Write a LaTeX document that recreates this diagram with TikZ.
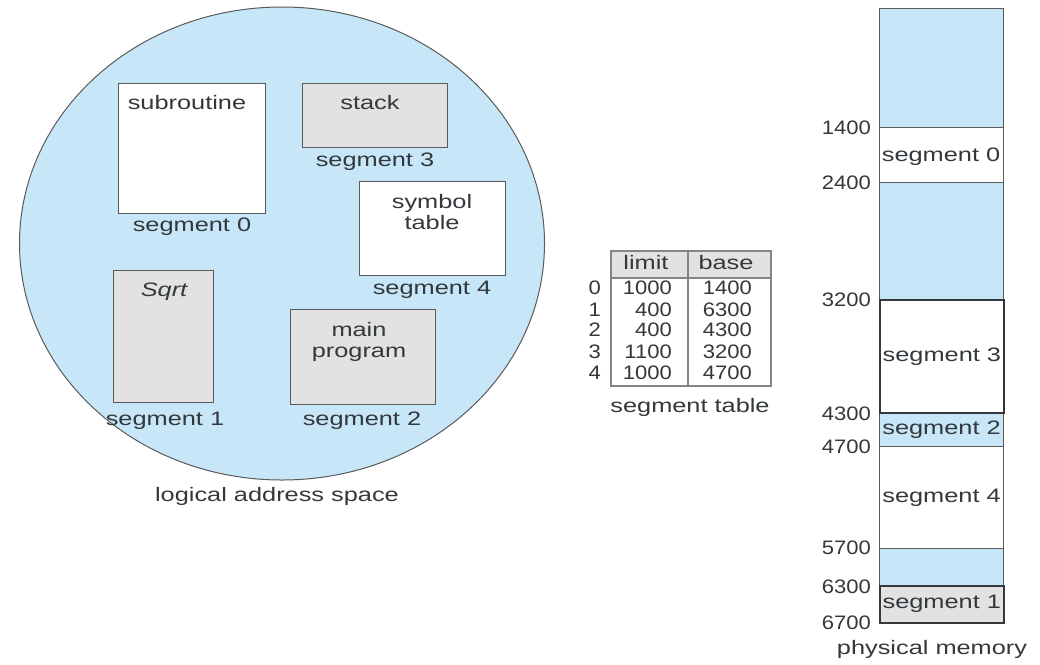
\documentclass[tikz,border=0pt]{standalone}
\usepackage{fontspec}
\setmainfont[FakeStretch=1.3]{Liberation Sans}
\newfontfamily\numfont[FakeStretch=1.13]{Liberation Sans}
\usetikzlibrary{shapes.geometric}
\definecolor{lblue}{HTML}{C7E7F8}
\definecolor{lgray}{HTML}{E2E2E2}
\definecolor{txt}{HTML}{33383C}
\definecolor{edge}{HTML}{5A5A5A}
\definecolor{tedge}{HTML}{858585}
\tikzset{
  lbl/.style={font=\fontsize{19.5}{21}\selectfont, text=txt, inner sep=0pt},
  num/.style={font=\fontsize{19.5}{21}\selectfont\numfont, text=txt, inner sep=0pt},
  segbox/.style={draw=edge, line width=1.3pt, anchor=north west, inner sep=0pt},
  memblk/.style={draw=edge, line width=1pt, anchor=north west, inner sep=0pt, minimum width=124pt},
  addr/.style={num, anchor=east},
}
\begin{document}
\begin{tikzpicture}[x=1pt,y=-1pt]
\useasboundingbox (0,0) rectangle (1040,664);
% logical address space
\node[ellipse, draw=edge, fill=lblue, line width=1pt, minimum width=525pt, minimum height=473pt, inner sep=0pt] (las) at (282,243.5) {};
\node[segbox, fill=white, minimum width=147pt, minimum height=130pt] (b0) at (118,83) {};
\node[lbl] (b0t) at (187,103) {subroutine};
\node[lbl] (b0l) at (192,227) {segment 0};
\node[segbox, fill=lgray, minimum width=145pt, minimum height=64pt] (b3) at (302,83) {};
\node[lbl] (b3t) at (370,103) {stack};
\node[lbl] (b3l) at (375,162) {segment 3};
\node[segbox, fill=white, minimum width=146pt, minimum height=94pt] (b4) at (359,181) {};
\node[lbl, align=center] (b4t) at (432,212.5) {symbol\\table};
\node[lbl] (b4l) at (432,290) {segment 4};
\node[segbox, fill=lgray, minimum width=100pt, minimum height=132pt] (b1) at (113,270) {};
\node[lbl, font=\fontsize{19.5}{21}\selectfont\itshape] (b1t) at (164,292) {Sqrt};
\node[lbl] (b1l) at (165,421) {segment 1};
\node[segbox, fill=lgray, minimum width=145pt, minimum height=95pt] (b2) at (290,309) {};
\node[lbl, align=center] (b2t) at (359,341.5) {main\\program};
\node[lbl] (b2l) at (362,421) {segment 2};
\node[lbl] (lascap) at (277,496) {logical address space};
% segment table
\node[draw=tedge, fill=lgray, line width=1.5pt, anchor=north west, inner sep=0pt, minimum width=160pt, minimum height=27pt] (thead) at (610,250) {};
\node[draw=tedge, line width=1.5pt, anchor=north west, inner sep=0pt, minimum width=160pt, minimum height=108pt] (tbody) at (610,277) {};
\draw[draw=tedge, line width=1.5pt] (thead.north west -| 688,0) -- (tbody.south west -| 688,0);
\node[lbl] (hl) at (646,263) {limit};
\node[lbl] (hb) at (726,263) {base};
\foreach \i/\l/\b/\y in {0/1000/1400/288, 1/400/6300/310, 2/400/4300/330, 3/1100/3200/352, 4/1000/4700/373}{
  \node[num, anchor=east] (ti\i) at (601,\y) {\i};
  \node[num, anchor=east] (tl\i) at (672,\y) {\l};
  \node[num, anchor=east] (tb\i) at (752,\y) {\b};
}
\node[lbl] (tcap) at (690,407) {segment table};
% physical memory
\node[memblk, fill=lblue, minimum height=119pt] (m0) at (879,8) {};
\node[memblk, fill=white, minimum height=55pt] (ms0) at (879,127) {};
\node[memblk, fill=lblue, minimum height=117pt] (m1) at (879,182) {};
\node[memblk, fill=lblue, minimum height=34pt] (ms2) at (879,412) {};
\node[memblk, fill=white, minimum height=102pt] (ms4) at (879,446) {};
\node[memblk, fill=lblue, minimum height=38pt] (m2) at (879,548) {};
\node[memblk, fill=lgray, minimum height=37pt, line width=1.6pt, draw=txt] (ms1) at (879,585) {};
\node[memblk, fill=white, minimum height=113pt, line width=1.8pt, draw=txt] (ms3) at (879,299) {};
\node[lbl] (ms0t) at (941,157) {segment 0};
\node[lbl] (ms3t) at (ms3.center) {segment 3};
\node[lbl] (ms2t) at (ms2.center) {segment 2};
\node[lbl] (ms4t) at (ms4.center) {segment 4};
\node[lbl] (ms1t) at (ms1.center) {segment 1};
\node[addr] (a1) at (871,128) {1400};
\node[addr] (a2) at (871,183) {2400};
\node[addr] (a3) at (871,300) {3200};
\node[addr] (a4) at (871,414) {4300};
\node[addr] (a5) at (871,447) {4700};
\node[addr] (a6) at (871,548) {5700};
\node[addr] (a7) at (871,587) {6300};
\node[addr] (a8) at (871,623) {6700};
\node[lbl] (pmcap) at (932,649) {physical memory};
\end{tikzpicture}
\end{document}
